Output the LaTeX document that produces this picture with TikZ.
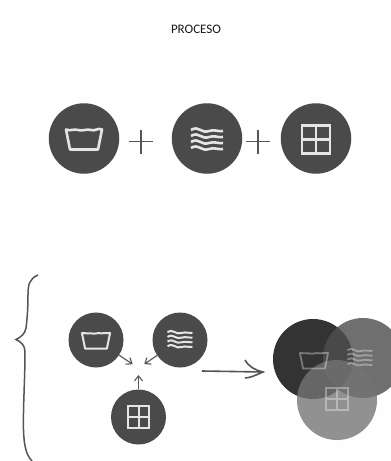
\documentclass[tikz,border=0pt]{standalone}
\usepackage{fontspec}
\setmainfont{Carlito}
\usetikzlibrary{arrows.meta,positioning,calc}
\definecolor{disc}{HTML}{4A4A4A}
\definecolor{ink}{HTML}{555555}
\definecolor{paper}{HTML}{FEFEFE}
\tikzset{
 washpic/.pic={\draw[pic actions,line join=round] (-18,-9)--(-14,11)--(14,11)--(18,-9)
   .. controls (14,-11) and (11,-7) .. (7,-8.5) .. controls (3,-10) and (-2,-7) .. (-6,-8.5) .. controls (-10,-10) and (-14,-7) .. cycle;},
 wavepic/.pic={\foreach \yy in {-9,-3,3,9}{\draw[pic actions] (-16,\yy-1) .. controls (-8,\yy-6) and (-6,\yy+3) .. (2,\yy) .. controls (8,\yy-2) and (11,\yy+1) .. (16,\yy);}},
 gridpic/.pic={\draw[pic actions] (-14,-14) rectangle (14,14) (0,-14)--(0,14) (-14,0)--(14,0);},
 pluspic/.pic={\draw[ink,line width=1.4pt] (-12,0)--(12,0) (0,-12)--(0,12);}
}
\begin{document}
\begin{tikzpicture}[x=1pt,y=-1pt,>={Straight Barb[length=5pt,width=8pt]},
 bigdisc/.style={circle,fill=disc,minimum size=70.5pt,inner sep=0pt},
 smalldisc/.style={circle,fill=disc,minimum size=55pt,inner sep=0pt},
 bigicon/.style={draw=white!90!black,line width=2.6pt},
 smallicon/.style={draw=white!90!black,line width=2pt,scale=.78},
 fadeicon/.style={draw=white,draw opacity=.35,line width=1.8pt,scale=.78},
 flow/.style={->,ink,line width=1.1pt}]
\fill[paper] (0,0) rectangle (391,461);
\useasboundingbox (0,0) rectangle (391,461);
\node[font=\fontsize{13}{15}\selectfont,text=black!90] (title) at (196,29) {PROCESO};
\node[bigdisc] (washtop) at (84,138.5) {};
\node[bigdisc] (wavetop) at (207,138.5) {};
\node[bigdisc] (gridtop) at (316,138.5) {};
\pic[bigicon] at (washtop) {washpic};
\pic[bigicon] at ($(wavetop)+(0,1.5)$) {wavepic};
\pic[bigicon] at ($(gridtop)+(0,1)$) {gridpic};
\pic at (141,141.5) {pluspic};
\pic at (258,141.5) {pluspic};
\draw[ink,line width=1.5pt] (38,275) .. controls (29,279) and (28,285) .. (28,295) .. controls (28,310) and (27,320) .. (26,328) .. controls (25,334) and (21,337) .. (16,339.5) .. controls (21,342) and (25,345) .. (25,352) .. controls (25,380) and (23,405) .. (23.5,430) .. controls (24,445) and (26,455) .. (32,461);
\node[smalldisc] (washsmall) at (96,340) {};
\node[smalldisc] (wavesmall) at (180,340) {};
\node[smalldisc] (gridsmall) at (138.5,417) {};
\pic[smallicon] at (washsmall) {washpic};
\pic[smallicon] at (wavesmall) {wavepic};
\pic[smallicon] at (gridsmall) {gridpic};
\coordinate (hub) at (138.5,368);
\draw[flow,shorten >=7pt] (washsmall)--(hub);
\draw[flow,shorten >=7pt] (wavesmall)--(hub);
\draw[flow,shorten >=7pt] (gridsmall)--(hub);
\coordinate (resfrom) at (202,371);
\coordinate (resto) at (263,372);
\draw[ink,line width=1.6pt] (resfrom)--(resto) (245,360) .. controls (249,367) and (255,370) .. (resto) .. controls (256,375) and (250,378) .. (245,378);
\node[circle,fill=black!80,minimum size=80pt,inner sep=0pt] (washmix) at (313,359) {};
\node[circle,fill={rgb,255:red,79;green,79;blue,79},fill opacity=.81,minimum size=80pt,inner sep=0pt] (wavemix) at (363,358) {};
\node[circle,fill={rgb,255:red,116;green,116;blue,116},fill opacity=.79,minimum size=80pt,inner sep=0pt] (gridmix) at (337,400) {};
\pic[fadeicon] at (314,360) {washpic};
\pic[fadeicon] at (360,358) {wavepic};
\pic[fadeicon] at (337,399) {gridpic};
\end{tikzpicture}
\end{document}
